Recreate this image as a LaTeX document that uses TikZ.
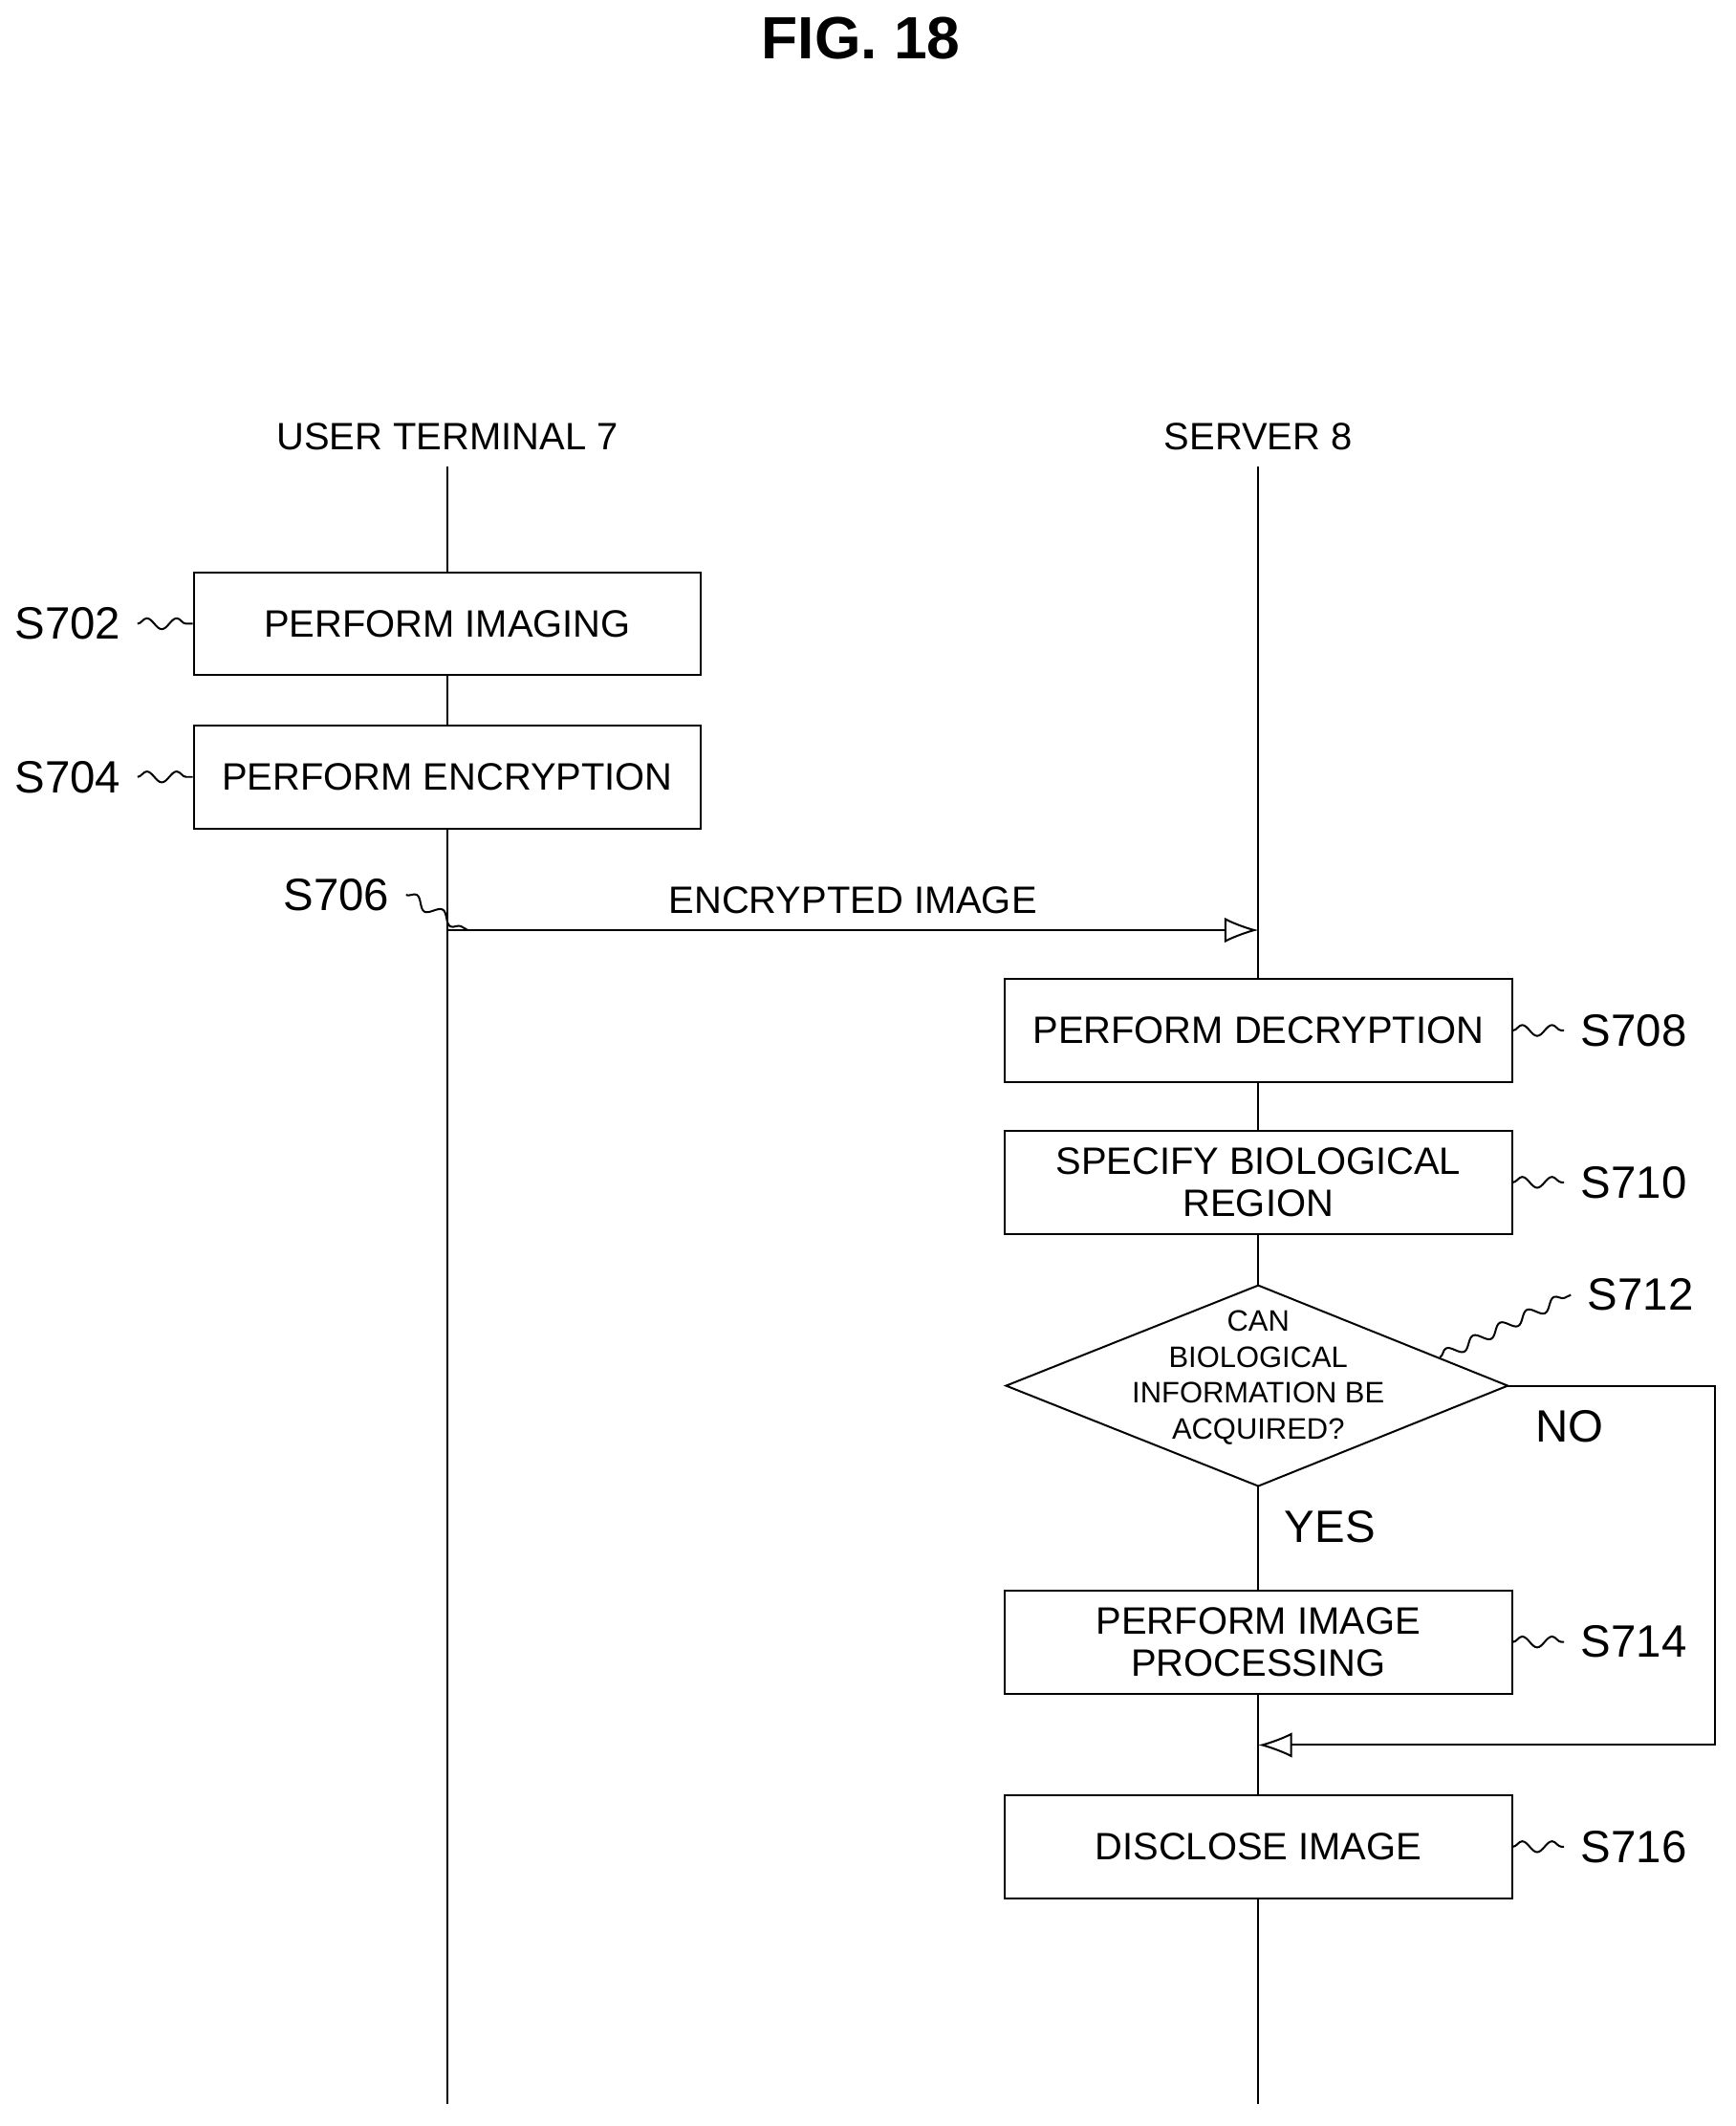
\documentclass[tikz,border=0pt]{standalone}
\usepackage{fontspec}
\setmainfont{Liberation Sans}
\usetikzlibrary{arrows.meta,positioning,shapes.geometric,decorations.pathmorphing}
\tikzset{
  procbox/.style={draw, fill=white, minimum width=3.74cm, minimum height=0.76cm, align=center, font=\fontsize{8}{8.8}\selectfont, inner sep=1pt},
  condtext/.style={align=center, font=\fontsize{6.2}{7.6}\selectfont, inner sep=0pt},
  tag/.style={font=\fontsize{9.5}{10}\selectfont},
  squig/.style={decorate, decoration={snake, amplitude=0.4mm, segment length=2.2mm}},
  msg/.style={-{Latex[open,length=2.5mm]}}
}
\begin{document}
\begin{tikzpicture}[x=0.01cm,y=-0.01cm]
  \useasboundingbox (0,0) rectangle (1280,1568);
  \node[font=\bfseries\fontsize{12.5}{14}\selectfont] (title) at (635,28) {FIG. 18};
  % lifelines
  \node[font=\fontsize{8}{9}\selectfont] (user) at (330,322) {USER TERMINAL 7};
  \node[font=\fontsize{8}{9}\selectfont] (server) at (928,322) {SERVER 8};
  \coordinate (userend) at (330,1552);
  \coordinate (serverend) at (928,1552);
  \draw (user) -- (userend);
  \draw (server) -- (serverend);
  % user terminal steps
  \node[procbox] (imaging) at (330,460) {PERFORM IMAGING};
  \node[procbox] (encrypt) at (330,573) {PERFORM ENCRYPTION};
  % message
  \coordinate (send) at (330,686);
  \coordinate (recv) at (928,686);
  \draw[msg] (send) -- node[above, font=\fontsize{8}{9}\selectfont] {ENCRYPTED IMAGE} (recv);
  % server steps
  \node[procbox] (decrypt) at (928,760) {PERFORM DECRYPTION};
  \node[procbox] (region) at (928,872) {SPECIFY BIOLOGICAL\\REGION};
  \coordinate (ctop) at (928,948);
  \coordinate (cright) at (1112,1022);
  \coordinate (cbot) at (928,1096);
  \coordinate (cleft) at (742,1022);
  \filldraw[fill=white] (ctop) -- (cright) -- (cbot) -- (cleft) -- cycle;
  \node[condtext] (check) at (928,1016) {CAN\\BIOLOGICAL\\INFORMATION BE\\ACQUIRED?};
  \node[procbox] (process) at (928,1211) {PERFORM IMAGE\\PROCESSING};
  \node[procbox] (disclose) at (928,1362) {DISCLOSE IMAGE};
  % branch
  \coordinate (join) at (928,1287);
  \draw[msg] (cright) -- (1265,1022) -- (1265,1287) -- (join);
  \node[tag, anchor=north west] (no) at (1120,1028) {NO};
  \node[tag, anchor=north west] (yes) at (935,1102) {YES};
  % step labels
  \node[tag] (s702) at (50,460) {S702};
  \node[tag] (s704) at (50,573) {S704};
  \node[tag] (s706) at (248,660) {S706};
  \node[tag] (s708) at (1205,760) {S708};
  \node[tag] (s710) at (1205,872) {S710};
  \node[tag] (s712) at (1210,955) {S712};
  \node[tag] (s714) at (1205,1211) {S714};
  \node[tag] (s716) at (1205,1362) {S716};
  \draw[squig] (s702) -- (imaging);
  \draw[squig] (s704) -- (encrypt);
  \draw[squig] (s706.east) -- (345,686);
  \draw[squig] (decrypt) -- (s708);
  \draw[squig] (region) -- (s710);
  \coordinate (cedge) at (1062,1001);
  \draw[squig] (cedge) -- (s712.west);
  \draw[squig] (process) -- (s714);
  \draw[squig] (disclose) -- (s716);
\end{tikzpicture}
\end{document}
